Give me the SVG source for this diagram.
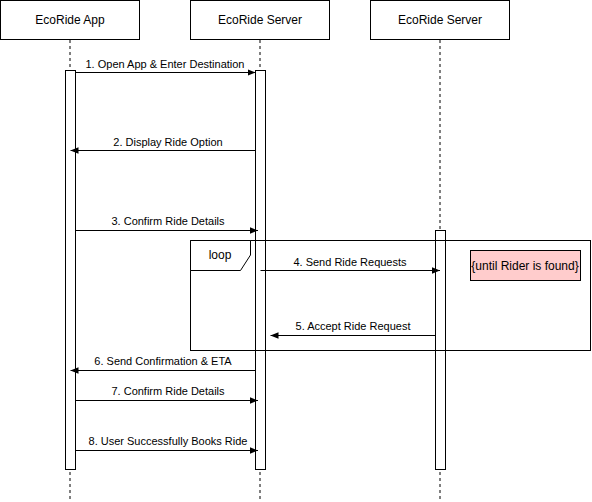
<svg xmlns="http://www.w3.org/2000/svg" width="592" height="502" viewBox="0 0 592 502">
<style>
.box{fill:#fff;stroke:#000;stroke-width:1}
.life{stroke:#000;stroke-width:1;stroke-dasharray:3,3;fill:none}
.act{fill:#fff;stroke:#000;stroke-width:1}
.msg{stroke:#000;stroke-width:1;fill:none;marker-end:url(#ah)}
.t{font-family:"Liberation Sans",Arial,sans-serif;fill:#000;text-anchor:middle}
.h{font-size:12px}
.m{font-size:11px}
</style>
<defs>
<marker id="ah" viewBox="0 0 10 10" refX="10" refY="5" markerWidth="8" markerHeight="8" markerUnits="userSpaceOnUse" orient="auto">
<path d="M0,1 L10,5 L0,9 Z" fill="#000"/>
</marker>
</defs>
<g id="lifelines">
<line class="life" x1="70" y1="40" x2="70" y2="502"/>
<line class="life" x1="260" y1="40" x2="260" y2="502"/>
<line class="life" x1="440" y1="40" x2="440" y2="502"/>
</g>
<g id="node-app">
<rect class="box" x="0.5" y="0.5" width="139" height="39"/>
<text class="t h" x="70" y="24">EcoRide App</text>
</g>
<g id="node-server1">
<rect class="box" x="190.5" y="0.5" width="139" height="39"/>
<text class="t h" x="260" y="24">EcoRide Server</text>
</g>
<g id="node-server2">
<rect class="box" x="370.5" y="0.5" width="139" height="39"/>
<text class="t h" x="440" y="24">EcoRide Server</text>
</g>
<g id="activations">
<rect class="act" x="65.5" y="70.5" width="10" height="399"/>
<rect class="act" x="255.5" y="70.5" width="10" height="399"/>
<rect class="act" x="435.5" y="230.5" width="10" height="239"/>
</g>
<g id="loop-frame">
<rect x="190.5" y="240.5" width="400" height="110" fill="none" stroke="#000"/>
<path d="M190.5,240.5 H250.5 V255 L240.5,270.5 H190.5 Z" fill="#fff" stroke="#000"/>
<text class="t h" x="220" y="259">loop</text>
</g>
<g id="loop-condition">
<rect x="470.5" y="250.5" width="110" height="30" fill="#ffcccc" stroke="#000"/>
<text class="t h" x="525" y="270">{until Rider is found}</text>
</g>
<g id="connectors">
<line class="msg" x1="75.5" y1="72.5" x2="255.5" y2="72.5"/>
<text class="t m" x="165" y="68">1. Open App &amp; Enter Destination</text>
<line class="msg" x1="255.5" y1="150.5" x2="70.5" y2="150.5"/>
<text class="t m" x="168" y="146">2. Display Ride Option</text>
<line class="msg" x1="75.5" y1="230.5" x2="258" y2="230.5"/>
<text class="t m" x="168" y="225">3. Confirm Ride Details</text>
<line class="msg" x1="260.5" y1="270.5" x2="440" y2="270.5"/>
<text class="t m" x="350" y="266">4. Send Ride Requests</text>
<line class="msg" x1="435.5" y1="335.5" x2="270.5" y2="335.5"/>
<text class="t m" x="353" y="330">5. Accept Ride Request</text>
<line class="msg" x1="255.5" y1="370.5" x2="70.5" y2="370.5"/>
<text class="t m" x="163" y="365">6. Send Confirmation &amp; ETA</text>
<line class="msg" x1="75.5" y1="400.5" x2="258" y2="400.5"/>
<text class="t m" x="168" y="395">7. Confirm Ride Details</text>
<line class="msg" x1="75.5" y1="450.5" x2="258" y2="450.5"/>
<text class="t m" x="168" y="445">8. User Successfully Books Ride</text>
</g>
</svg>
